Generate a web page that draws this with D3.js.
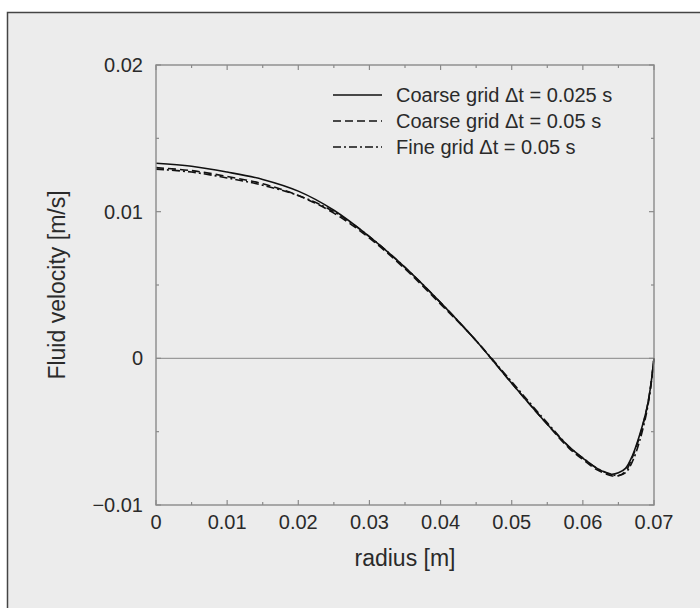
<!DOCTYPE html>
<html>
<head>
<meta charset="utf-8" />
<title>Fluid velocity vs radius</title>
<script src="https://d3js.org/d3.v7.min.js"></script>
<style>
    body { margin: 0; background: white; }
    svg { display: block; }
    text { font-family: 'Liberation Sans', Arial, sans-serif; fill: #2a2a2a; }
</style>
</head>
<body>
<div id="chart"></div>
<script>
    // radius [m]
    var radius = [0, 0.005, 0.01, 0.015, 0.02, 0.025, 0.03, 0.035, 0.04, 0.045, 0.05,
                  0.055, 0.058, 0.06, 0.062, 0.064, 0.065, 0.066, 0.067, 0.068, 0.069, 0.0695, 0.07];
    // fluid velocity [m/s] for each run
    var coarse025 = [0.0133, 0.0131, 0.0127, 0.0122, 0.0114, 0.0101, 0.0083, 0.0062, 0.0038, 0.0012, -0.0017,
                     -0.0045, -0.0060, -0.0068, -0.0075, -0.0079, -0.0078, -0.0075, -0.0066, -0.0052, -0.0034, -0.0020, 0];
    var coarse05  = [0.0130, 0.0128, 0.0124, 0.0119, 0.0111, 0.0099, 0.0082, 0.0061, 0.0037, 0.0012, -0.0017,
                     -0.0045, -0.0061, -0.0069, -0.0076, -0.0080, -0.0080, -0.0077, -0.0067, -0.0053, -0.0034, -0.0020, 0];
    var fine05    = [0.0129, 0.0127, 0.0123, 0.0118, 0.0111, 0.0100, 0.0083, 0.0062, 0.0038, 0.0012, -0.0016,
                     -0.0044, -0.0060, -0.0068, -0.0075, -0.0079, -0.0080, -0.0078, -0.0070, -0.0056, -0.0036, -0.0021, 0];

    var seriesNames = ["Coarse grid \u0394t = 0.025 s", "Coarse grid \u0394t = 0.05 s", "Fine grid \u0394t = 0.05 s"];
    var seriesData = [coarse025, coarse05, fine05];
    var dashes = [null, "8,4", "8,3,2,3"];

    var xTicks = [0, 0.01, 0.02, 0.03, 0.04, 0.05, 0.06, 0.07];
    var xMinor = [0.005, 0.015, 0.025, 0.035, 0.045, 0.055, 0.065];
    var yTicks = [-0.01, 0, 0.01, 0.02];
    var yMinor = [-0.005, 0.005, 0.015];

    var width = 700, height = 608;
    // plot box edges (pixels)
    var pLeft = 156, pRight = 654, pTop = 65, pBottom = 505;

    var svg = d3.select("#chart").append("svg")
        .attr("width", width).attr("height", height);

    // outer panel
    svg.append("rect")
        .attr("x", 7.5).attr("y", 12.5)
        .attr("width", 800).attr("height", 800)
        .attr("fill", "#ececec")
        .attr("stroke", "#444").attr("stroke-width", 1.5);

    var x = d3.scaleLinear().domain([0, 0.07]).range([pLeft, pRight]);
    var y = d3.scaleLinear().domain([-0.01, 0.02]).range([pBottom, pTop]);

    var fmt = function (d) { return d === 0 ? "0" : d3.format(".2f")(d).replace("-", "\u2212"); };

    var g = svg.append("g");

    // zero line
    g.append("line")
        .attr("x1", x(0)).attr("x2", x(0.07))
        .attr("y1", y(0)).attr("y2", y(0))
        .attr("stroke", "#9a9a9a").attr("stroke-width", 1.3);

    // ticks, inward, on all four sides
    function xticks(vals, len) {
        vals.forEach(function (v) {
            g.append("line").attr("x1", x(v)).attr("x2", x(v)).attr("y1", pBottom).attr("y2", pBottom - len)
                .attr("stroke", "#8a8a8a").attr("stroke-width", 1.2);
            g.append("line").attr("x1", x(v)).attr("x2", x(v)).attr("y1", pTop).attr("y2", pTop + len)
                .attr("stroke", "#8a8a8a").attr("stroke-width", 1.2);
        });
    }
    function yticks(vals, len) {
        vals.forEach(function (v) {
            g.append("line").attr("y1", y(v)).attr("y2", y(v)).attr("x1", pLeft).attr("x2", pLeft + len)
                .attr("stroke", "#8a8a8a").attr("stroke-width", 1.2);
            g.append("line").attr("y1", y(v)).attr("y2", y(v)).attr("x1", pRight).attr("x2", pRight - len)
                .attr("stroke", "#8a8a8a").attr("stroke-width", 1.2);
        });
    }
    xticks(xTicks, 5); xticks(xMinor, 3);
    yticks(yTicks, 5); yticks(yMinor, 3);

    // curves
    var line = d3.line()
        .x(function (d) { return x(d[0]); })
        .y(function (d) { return y(d[1]); })
        .curve(d3.curveCatmullRom.alpha(0.5));

    seriesData.forEach(function (vals, i) {
        g.append("path")
            .datum(radius.map(function (r, j) { return [r, vals[j]]; }))
            .attr("d", line)
            .attr("fill", "none")
            .attr("stroke", "#111")
            .attr("stroke-width", 1.6)
            .attr("stroke-dasharray", dashes[i]);
    });

    // plot frame
    g.append("rect")
        .attr("x", pLeft).attr("y", pTop)
        .attr("width", pRight - pLeft).attr("height", pBottom - pTop)
        .attr("fill", "none").attr("stroke", "#8a8a8a").attr("stroke-width", 1.4);

    // tick labels
    g.selectAll(".xl").data(xTicks).enter().append("text")
        .attr("x", function (d) { return x(d); })
        .attr("y", 529)
        .attr("text-anchor", "middle")
        .style("font-size", "20px")
        .text(fmt);

    g.selectAll(".yl").data(yTicks).enter().append("text")
        .attr("x", 143)
        .attr("y", function (d) { return y(d) + 7; })
        .attr("text-anchor", "end")
        .style("font-size", "20px")
        .text(fmt);

    // axis titles
    svg.append("text")
        .attr("x", 405).attr("y", 566)
        .attr("text-anchor", "middle")
        .style("font-size", "23px")
        .text("radius [m]");

    svg.append("text")
        .attr("transform", "translate(65," + (pTop + pBottom) / 2 + ") rotate(-90)")
        .attr("text-anchor", "middle")
        .style("font-size", "23px")
        .text("Fluid velocity [m/s]");

    // legend
    var legend = svg.append("g");
    seriesNames.forEach(function (name, i) {
        var ly = 95 + i * 26;
        legend.append("line")
            .attr("x1", 333).attr("x2", 382)
            .attr("y1", ly).attr("y2", ly)
            .attr("stroke", "#111").attr("stroke-width", 1.6)
            .attr("stroke-dasharray", dashes[i]);
        legend.append("text")
            .attr("x", 396).attr("y", ly + 7)
            .style("font-size", "20px")
            .text(name);
    });
</script>
</body>
</html>
